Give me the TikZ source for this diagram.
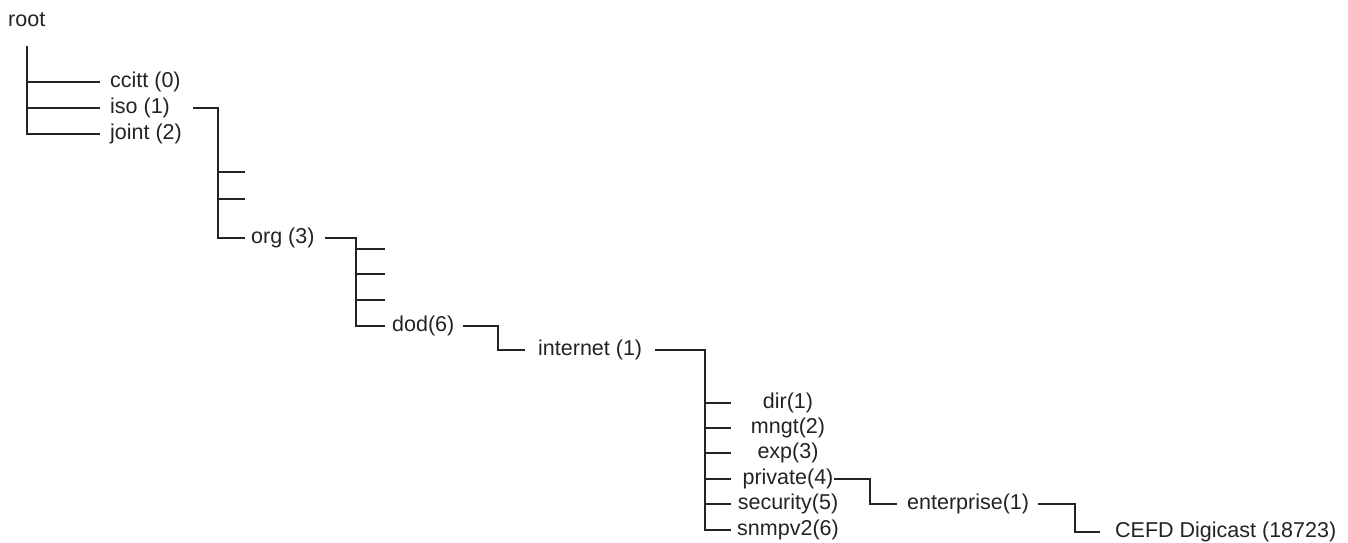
\documentclass[tikz,border=0pt]{standalone}
\usepackage{fontspec}
\setmainfont{Liberation Sans}
\definecolor{ink}{RGB}{35,35,35}
\begin{document}
\begin{tikzpicture}[x=1pt,y=-1pt,
  lbl/.style={font=\fontsize{21.5}{24}\selectfont, text=ink, inner sep=0pt, anchor=west, text height=15.6pt, text depth=4.5pt},
  wire/.style={draw=ink, line width=1.5pt}]
\fill[white] (0,0) rectangle (1348,542);
\useasboundingbox (0,0) rectangle (1348,542);
% labels
\node[lbl] (root) at (8,21) {root};
\node[lbl] (ccitt) at (110,82) {ccitt (0)};
\node[lbl] (iso) at (110,108) {iso (1)};
\node[lbl] (joint) at (110,134) {joint (2)};
\node[lbl] (org) at (251,238) {org (3)};
\node[lbl] (dod) at (392,326) {dod(6)};
\node[lbl] (internet) at (538,350) {internet (1)};
\node[lbl,anchor=center] (dir) at (788,403) {dir(1)};
\node[lbl,anchor=center] (mngt) at (788,428) {mngt(2)};
\node[lbl,anchor=center] (exp) at (788,453) {exp(3)};
\node[lbl,anchor=center] (private) at (788,479) {private(4)};
\node[lbl,anchor=center] (security) at (788,504) {security(5)};
\node[lbl,anchor=center] (snmp) at (788,530) {snmpv2(6)};
\node[lbl] (enterprise) at (907,504) {enterprise(1)};
\node[lbl] (cefd) at (1115,532) {CEFD Digicast (18723)};
% junction coordinates
\coordinate (r0) at (27,46);
\coordinate (r1) at (27,82);
\coordinate (r2) at (27,108);
\coordinate (r3) at (27,134);
\coordinate (i0) at (218,108);
\coordinate (i1) at (218,172);
\coordinate (i2) at (218,199);
\coordinate (i3) at (218,238);
\coordinate (o0) at (356,238);
\coordinate (o1) at (356,249);
\coordinate (o2) at (356,274);
\coordinate (o3) at (356,300);
\coordinate (o4) at (356,326);
\coordinate (d0) at (498,326);
\coordinate (d1) at (498,350);
\coordinate (n0) at (705,350);
\coordinate (n1) at (705,403);
\coordinate (n2) at (705,428);
\coordinate (n3) at (705,453);
\coordinate (n4) at (705,479);
\coordinate (n5) at (705,504);
\coordinate (n6) at (705,530);
\coordinate (p0) at (870,479);
\coordinate (p1) at (870,504);
\coordinate (e0) at (1075,504);
\coordinate (e1) at (1075,532);
% root
\draw[wire] (r0) -- (r3) -- ([xshift=-10pt]joint.west);
\draw[wire] (r1) -- ([xshift=-10pt]ccitt.west);
\draw[wire] (r2) -- ([xshift=-10pt]iso.west);
% iso
\draw[wire] ([xshift=23pt]iso.east) -- (i0) -- (i3) -- ([xshift=-6pt]org.west);
\draw[wire] (i1) -- ++(27,0);
\draw[wire] (i2) -- ++(27,0);
% org
\draw[wire] ([xshift=10pt]org.east) -- (o0) -- (o4) -- ([xshift=-7pt]dod.west);
\draw[wire] (o1) -- ++(29,0);
\draw[wire] (o2) -- ++(29,0);
\draw[wire] (o3) -- ++(29,0);
% dod
\draw[wire] ([xshift=8pt]dod.east) -- (d0) -- (d1) -- ([xshift=-13pt]internet.west);
% internet
\draw[wire] ([xshift=13pt]internet.east) -- (n0) -- (n6) -- ([xshift=-6pt]snmp.west);
\draw[wire] (n1) -- ++(26,0);
\draw[wire] (n2) -- ++(26,0);
\draw[wire] (n3) -- ++(26,0);
\draw[wire] (n4) -- ++(26,0);
\draw[wire] (n5) -- ++(26,0);
% private
\draw[wire] (private.east) -- (p0) -- (p1) -- ([xshift=-10pt]enterprise.west);
% enterprise
\draw[wire] ([xshift=9pt]enterprise.east) -- (e0) -- (e1) -- ([xshift=-15pt]cefd.west);
\end{tikzpicture}
\end{document}
